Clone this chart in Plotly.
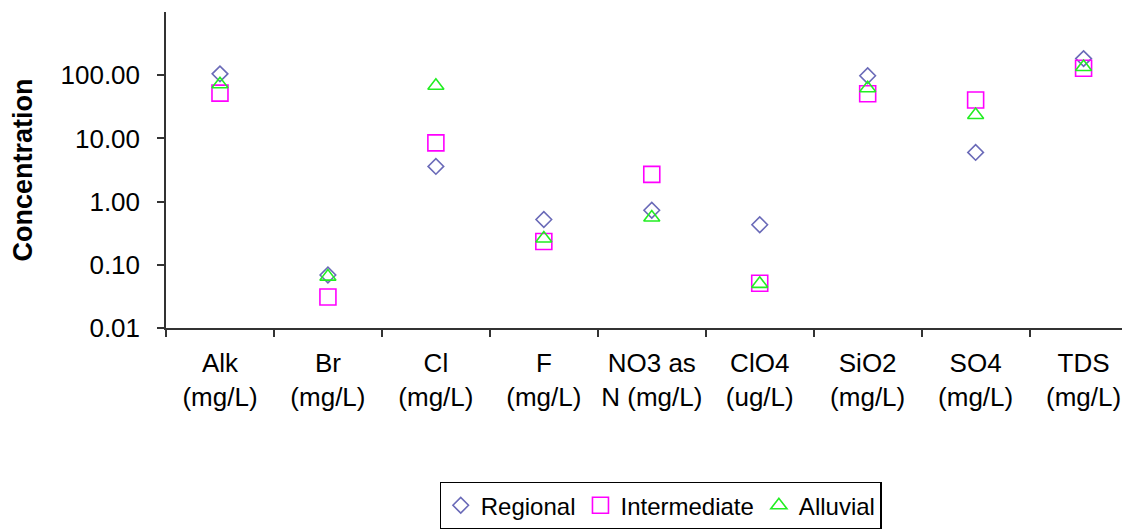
import plotly.graph_objects as go

categories = ["Alk<br>(mg/L)", "Br<br>(mg/L)", "Cl<br>(mg/L)", "F<br>(mg/L)", "NO3 as<br>N (mg/L)",
              "ClO4<br>(ug/L)", "SiO2<br>(mg/L)", "SO4<br>(mg/L)", "TDS<br>(mg/L)"]
regional = [105, 0.069, 3.6, 0.52, 0.73, 0.43, 98, 6.0, 183]
intermediate = [52, 0.031, 8.5, 0.234, 2.7, 0.051, 51, 40.5, 129]
alluvial = [72, 0.065, 68, 0.26, 0.56, 0.05, 62, 23.5, 135]

y_ticks = [0.01, 0.1, 1, 10, 100]

FONT = "Liberation Sans, Arial, sans-serif"

fig = go.Figure()
fig.add_trace(go.Scatter(x=categories, y=regional, mode="markers", name="Regional",
                         marker=dict(symbol="diamond-open", size=12, color="#6A6AB8",
                                     line=dict(width=1.6, color="#6A6AB8"))))
fig.add_trace(go.Scatter(x=categories, y=intermediate, mode="markers", name="Intermediate",
                         marker=dict(symbol="square-open", size=16, color="#FF00FF",
                                     line=dict(width=1.6, color="#FF00FF"))))
fig.add_trace(go.Scatter(x=categories, y=alluvial, mode="markers", name="Alluvial",
                         marker=dict(symbol="triangle-up-open", size=14, color="#22EE22",
                                     line=dict(width=1.6, color="#22EE22"))))

fig.update_layout(
    width=1122, height=521,
    margin=dict(l=158, r=0, t=4, b=200),
    paper_bgcolor="white", plot_bgcolor="white",
    font=dict(family=FONT, size=26, color="black"),
    showlegend=True,
    legend=dict(orientation="h", x=0.513, xanchor="center", y=-0.486, yanchor="top",
                bordercolor="black", borderwidth=1.2, bgcolor="white",
                font=dict(size=24), itemwidth=30, tracegroupgap=0),
    xaxis=dict(type="category", range=[-0.5, 8.43], tickson="boundaries",
               showline=True, linecolor="#333333", linewidth=1.5,
               ticks="outside", ticklen=7, tickcolor="#333333", tickwidth=1.5,
               showgrid=False, zeroline=False, tickfont=dict(size=26),
               tickangle=0, ticklabelstandoff=11),
    yaxis=dict(type="log", range=[-2, 3], tickvals=y_ticks, tickformat=".2f",
               showline=True, linecolor="#333333", linewidth=1.5,
               ticks="outside", ticklen=7, tickcolor="#333333", tickwidth=1.5,
               showgrid=False, zeroline=False, tickfont=dict(size=26),
               ticklabelstandoff=12,
               title=dict(text="<b>Concentration</b>", font=dict(size=27), standoff=22)),
)

fig.write_html("out.html")
